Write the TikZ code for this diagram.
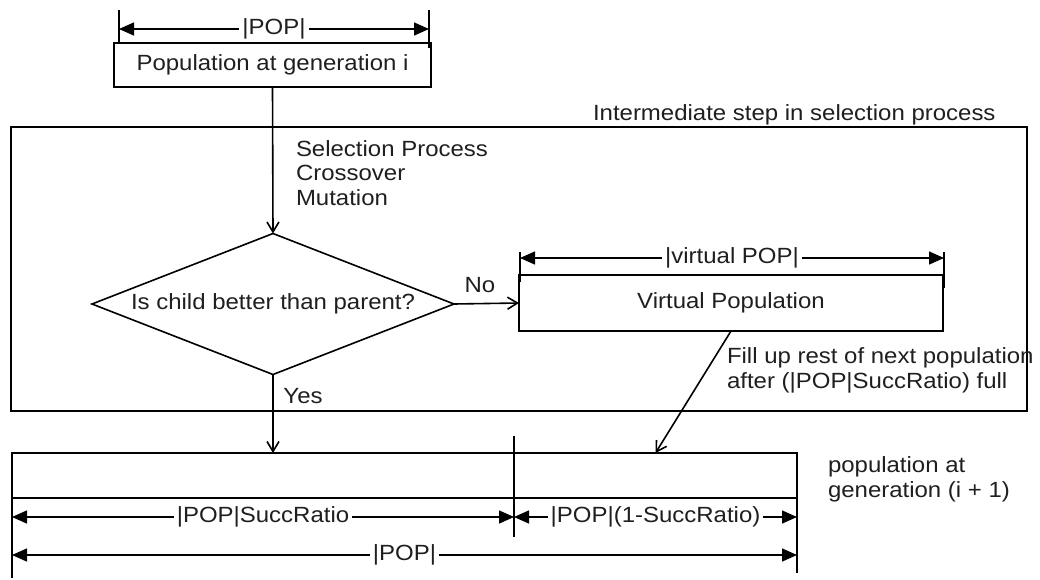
\documentclass[tikz,border=0pt]{standalone}
\usepackage{fontspec}
\setmainfont[FakeStretch=1.09]{Liberation Sans}
\usetikzlibrary{arrows.meta,shapes.geometric}

\begin{document}
\begin{tikzpicture}[x=0.5pt,y=-0.5pt,
  line width=0.8pt,
  every node/.style={font=\fontsize{11}{12.25}\selectfont, text=black!88},
  box/.style={draw, rectangle, inner sep=0pt, outer sep=0pt},
  plain/.style={inner sep=0pt, outer sep=0pt},
  flow/.style={-{Straight Barb[length=5pt,width=6pt]}},
  dim/.style={line width=0.75pt, {Triangle[length=7.5pt,width=6.5pt]}-{Triangle[length=7.5pt,width=6.5pt]}},
  dimlabel/.style={fill=white, inner xsep=1.5pt, inner ysep=0pt},
  ext/.style={line width=0.7pt}
]
\useasboundingbox (0,0) rectangle (1040,579);

% outer frame of the selection stage
\node[box, minimum width=508pt, minimum height=142pt] (stage) at (519,269) {};
\node[plain, anchor=base west] (stagelabel) at (593,120) {Intermediate step in selection process};

% current population
\node[box, minimum width=158.5pt, minimum height=22pt] (pop) at (272.5,65) {Population at generation i};
\coordinate (popL) at (119,29);
\coordinate (popR) at (429,29);
\draw[ext] (119,10) -- (119,42);
\draw[ext] (429,10) -- (429,48);
\draw[dim] (popL) -- (popR) node[midway, dimlabel] (popdim) {|POP|};

% genetic operators
\node[plain, anchor=base west] (op1) at (296,156) {Selection Process};
\node[plain, anchor=base west] (op2) at (296,180) {Crossover};
\node[plain, anchor=base west] (op3) at (296,205) {Mutation};

% decision
\node[draw, diamond, aspect=2.57, minimum width=181pt, minimum height=70.5pt,
      inner sep=0pt, outer sep=0pt] (dec) at (273,304) {Is child better than parent?};
\draw[flow] (pop.south) -- (dec.north);

% virtual population
\node[box, minimum width=212pt, minimum height=28pt] (vp) at (731,303) {Virtual Population};
\coordinate (vpL) at (520,258);
\coordinate (vpR) at (944,258);
\draw[ext] (520,252) -- (520,282);
\draw[ext] (944,252) -- (944,288);
\draw[dim] (vpL) -- (vpR) node[midway, dimlabel] (vpdim) {|virtual POP|};

\draw[flow] (dec.east) -- (vp.west);
\node[plain] (no) at (480,285) {No};

% next population
\node[box, minimum width=251pt, minimum height=22.5pt] (nextA) at (263,475.5) {};
\node[box, minimum width=141.5pt, minimum height=22.5pt] (nextB) at (655.5,475.5) {};
\node[plain, anchor=base west] (nextlabel1) at (828,472) {population at};
\node[plain, anchor=base west] (nextlabel2) at (828,497) {generation (i + 1)};

\draw[flow] (dec.south) -- (dec.south |- nextA.north);
\node[plain] (yes) at (303,396) {Yes};

\draw[flow] (vp.south) -- (nextB.north);
\node[plain, anchor=base west] (fill1) at (727,363) {Fill up rest of next population};
\node[plain, anchor=base west] (fill2) at (727,388) {after (|POP|SuccRatio) full};

% extension lines of the next population
\draw[ext] (12,498) -- (12,578);
\draw[ext] (797,498) -- (797,573);
\draw[ext] (514,436) -- (514,537);

\coordinate (sL) at (12,517);
\coordinate (sM) at (514,517);
\coordinate (sR) at (797,517);
\coordinate (tL) at (12,555);
\coordinate (tR) at (797,555);
\draw[dim] (sL) -- (sM) node[midway, dimlabel] (succdim) {|POP|SuccRatio};
\draw[dim] (sM) -- (sR) node[midway, dimlabel] (restdim) {|POP|(1-SuccRatio)};
\draw[dim] (tL) -- (tR) node[midway, dimlabel] (totdim) {|POP|};
\end{tikzpicture}
\end{document}
